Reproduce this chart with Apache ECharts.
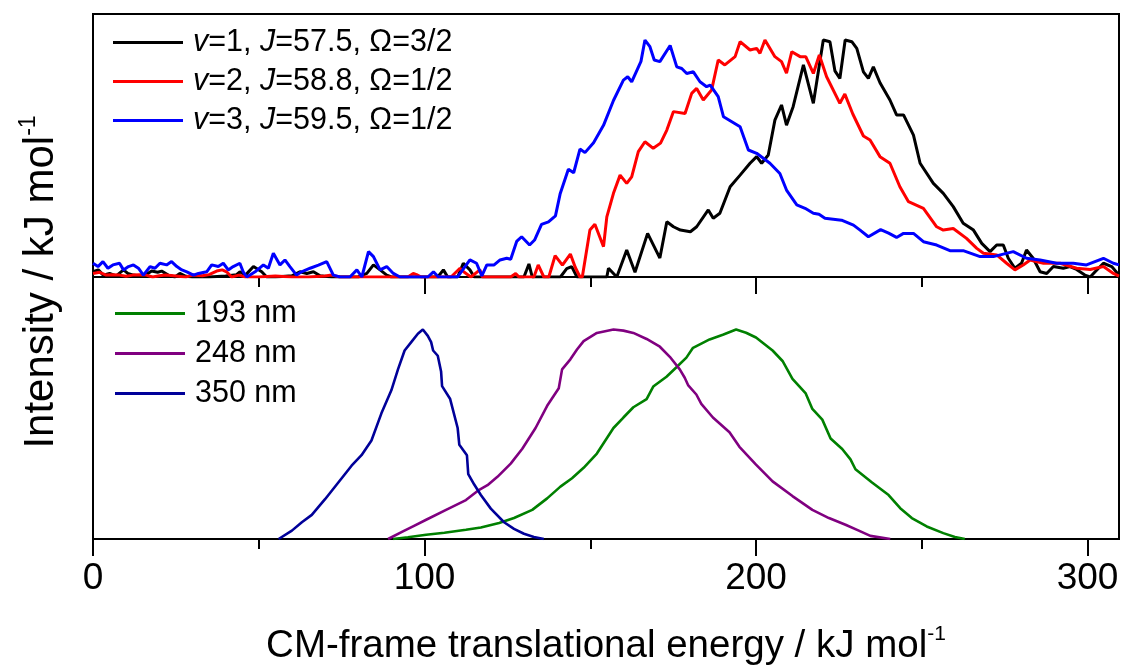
<!DOCTYPE html>
<html>
<head>
<meta charset="utf-8">
<title>CM-frame translational energy distributions</title>
<script src="https://cdn.jsdelivr.net/npm/echarts@6/dist/echarts.min.js"></script>
<style>
  html, body { margin: 0; padding: 0; background: #fff; }
  #chart { width: 1122px; height: 669px; }
</style>
</head>
<body>
<div id="chart"></div>
<script>
// Energy axis ticks (kJ/mol)
const majorTicks = [0, 100, 200, 300];
const minorTicks = [50, 150, 250];
const tickLabels = ['0', '100', '200', '300'];

// Upper panel: state-selected distributions, [energy, normalised intensity]
const topNames = ['v=1, J=57.5, Ω=3/2', 'v=2, J=58.8, Ω=1/2', 'v=3, J=59.5, Ω=1/2'];
const topColors = ['#000000', '#ff0000', '#0000ff'];

const v1Data = [
  [0,0.022],[1.6,0.03],[3.1,0.008],[5,0.015],[7,0.005],[9.2,0.03],[10.5,0.015],[12.2,0.008],[14,0.004],[16,0.01],
  [17.7,0.025],[19.5,0.02],[20.7,0.025],[22.7,0.008],[24.7,0],[26.2,0.015],[28,0.003],[30,0],[35,0],[40,0.004],
  [43.3,0.01],[44.3,0.022],[46,0.008],[48.4,0.044],[50.9,0.022],[52.4,0],[55,0],[60,0.005],[62.4,0.022],[64.5,0.015],
  [66.5,0.022],[68.5,0.005],[72,0],[80,0],[82.6,0.015],[84.6,0.051],[86.6,0.03],[88.6,0.008],[90,0],[104,0],
  [105.7,0.03],[107,0],[110,0],[111.7,0.058],[113.7,0.03],[115,0],[130,0],[131.5,0.055],[132.5,0],[141,0],
  [142.9,0.035],[144.4,0.044],[146,0],[155,0],[155.5,0.037],[158,0],[161,0.114],[163.5,0.02],[167.3,0.184],[171,0.08],
  [173.1,0.233],[175.1,0.212],[177.2,0.198],[180.2,0.191],[182.1,0.212],[185.6,0.283],[187.1,0.248],[189.1,0.269],[192.2,0.381],[195.2,0.43],
  [198.2,0.48],[200.2,0.508],[201.7,0.48],[203.7,0.515],[205.7,0.662],[207.7,0.726],[209.2,0.641],[211.2,0.719],[214.3,0.895],[217.3,0.733],
  [220.3,1.0],[222.3,0.993],[223.8,0.87],[225.3,0.838],[226.9,1.0],[228.9,0.993],[230.4,0.965],[232.4,0.866],[233.9,0.838],[235.4,0.887],
  [237.4,0.82],[240.4,0.747],[242.4,0.684],[244.5,0.684],[247.5,0.599],[249.5,0.48],[253.5,0.395],[256.5,0.353],[259.5,0.297],[262.5,0.227],
  [265.6,0.198],[268.1,0.142],[270.6,0.107],[272.6,0.135],[274.6,0.135],[276.1,0.079],[278.1,0.037],[280.1,0.058],[281.6,0.114],[283.6,0.079],
  [285.7,0.022],[287.7,0.015],[289.7,0.044],[292.7,0.037],[294.7,0.044],[296.7,0.032],[299.2,0.008],[300.8,0],[302.3,0.022],[304.8,0.058],
  [307.3,0.044],[309.5,0.008]
];

const v2Data = [
  [0,0.015],[2,0.02],[4,0.008],[6,0.01],[8,0.008],[10,0.003],[12,0.008],[14,0.01],[16,0.008],[18,0],
  [20,0.005],[22,0.008],[25,0.004],[28,0],[30,0.008],[33,0.005],[35,0.01],[37.3,0.025],[39,0.03],[40.3,0.022],
  [41.8,0],[44,0.008],[46,0],[50,0],[55,0.004],[60,0],[65,0],[70,0.004],[72,0.008],[74.5,0],
  [90,0],[95,0],[96.6,0.015],[97.6,0.01],[99,0],[108,0],[110.7,0.037],[112,0.02],[114,0],[116.7,0.03],
  [117.5,0],[126,0],[127.5,0.015],[128.5,0],[133,0],[134.3,0.051],[136,0],[137.5,0],[139.4,0.09],[141.6,0.05],
  [144,0.097],[145.5,0.04],[146.9,0],[147.6,0],[149.9,0.198],[151.4,0.223],[154,0.128],[155,0.254],[157,0.353],[159,0.43],
  [161,0.395],[162.5,0.423],[164.5,0.529],[166.5,0.571],[169,0.543],[171.2,0.565],[173.1,0.62],[175.1,0.698],[178.6,0.69],[180.6,0.775],
  [182.1,0.796],[184.1,0.747],[186.6,0.789],[188.6,0.916],[190.6,0.895],[193.7,0.93],[195.2,0.993],[198.2,0.958],[200.2,0.965],[201.2,0.944],
  [202.7,1.0],[205.7,0.93],[207.7,0.909],[209.2,0.86],[210.8,0.951],[213.3,0.93],[215,0.93],[217.3,0.859],[219.1,0.937],[221.3,0.845],
  [225.3,0.733],[226.8,0.772],[229.2,0.688],[232.4,0.595],[234.4,0.578],[237.4,0.508],[240.4,0.48],[243.4,0.381],[246,0.318],[250.5,0.29],
  [254.5,0.212],[256.5,0.198],[259.5,0.205],[263.5,0.163],[266.6,0.121],[268.6,0.1],[272.6,0.093],[275.6,0.058],[278.1,0.03],[280.6,0.051],
  [282.7,0.072],[286.7,0.058],[291.7,0.058],[296.7,0.037],[300.8,0.032],[304.8,0.044],[307.8,0.015],[309.5,0.004]
];

const v3Data = [
  [0,0.058],[1.5,0.044],[3,0.065],[4.5,0.037],[6,0.051],[8,0.058],[9.2,0.03],[10.7,0.044],[12.2,0.051],[13.7,0.037],
  [15.2,0.008],[17.2,0.044],[18.7,0.037],[20.2,0.058],[22.2,0.051],[23.7,0.065],[25.3,0.044],[26.8,0.03],[28.3,0.022],[30.3,0.008],
  [31.8,0.015],[34.3,0.022],[35.8,0.051],[37.8,0.044],[39.3,0.058],[40.8,0.03],[42.3,0.044],[44.3,0.058],[45.3,0.022],[46.4,0],
  [48.9,0.022],[51.4,0.051],[52.9,0.037],[54.4,0.1],[56.4,0.051],[57.9,0.072],[59.4,0.044],[61.4,0.008],[62.9,0.022],[65.5,0.037],
  [68,0.05],[70.5,0.065],[72.5,0.008],[74.5,0],[77.5,0],[79.6,0.03],[81.1,0],[83.1,0.107],[84.6,0.086],[86.6,0.03],
  [88.6,0.044],[90.6,0.015],[92.6,0],[101,0],[102.7,0.022],[104.2,0],[110,0],[112,0.04],[113.7,0.072],[115.7,0.058],
  [117.3,0.005],[118.8,0.051],[121,0.051],[122.8,0.072],[124.8,0.079],[126,0.075],[127.8,0.15],[129.3,0.17],[131.7,0.135],[133.2,0.156],
  [135.3,0.222],[137.4,0.233],[139.5,0.258],[140.9,0.35],[143.4,0.455],[145,0.44],[146.9,0.54],[148.4,0.525],[151,0.567],[154,0.64],
  [157,0.745],[160,0.831],[161.3,0.845],[162.5,0.824],[165.3,0.91],[166.5,1.0],[168,0.972],[169.3,0.916],[171,0.909],[174.1,0.977],
  [176.1,0.887],[177.6,0.88],[179.1,0.859],[181.1,0.866],[183.1,0.824],[185.1,0.803],[186.2,0.81],[188.6,0.761],[190.2,0.676],[192.7,0.655],
  [195.2,0.634],[197.7,0.536],[200.2,0.522],[204.2,0.48],[207.2,0.437],[209.2,0.367],[212.3,0.304],[214.8,0.29],[217.3,0.269],[219,0.265],
  [220.8,0.248],[225.8,0.24],[229.4,0.219],[231.4,0.198],[233.9,0.17],[237.6,0.2],[240,0.185],[242.4,0.167],[244.5,0.184],[247.5,0.184],
  [250.5,0.149],[254.5,0.135],[258.5,0.111],[262.5,0.111],[267.6,0.086],[271.6,0.086],[277.6,0.107],[281.6,0.079],[285.7,0.072],[290.7,0.058],
  [295.7,0.058],[299.7,0.051],[304.8,0.079],[307.8,0.058],[309.5,0.051]
];

// Lower panel: photolysis-wavelength distributions, [energy, normalised intensity]
const bottomNames = ['193 nm', '248 nm', '350 nm'];
const bottomColors = ['#008000', '#800080', '#000099'];

const nm193Data = [
  [90.5,0],[95,0.008],[100.5,0.02],[106,0.03],[112.5,0.044],[117,0.055],[122.5,0.076],[127,0.1],[132.5,0.139],[137,0.194],
  [141,0.25],[144.5,0.29],[148,0.34],[152,0.408],[157,0.53],[160,0.58],[163,0.629],[167,0.668],[169,0.728],[173,0.775],
  [176,0.82],[179,0.866],[181,0.913],[186,0.953],[190,0.975],[194,1.0],[197,0.985],[200,0.962],[205,0.9],[208,0.85],
  [211,0.765],[215,0.695],[217,0.621],[220,0.57],[222.5,0.48],[226,0.43],[228.5,0.38],[230,0.333],[235,0.27],[240,0.21],
  [243.5,0.147],[247,0.1],[251.5,0.06],[256.5,0.028],[260,0.01],[263,0]
];

const nm248Data = [
  [89,0],[93.5,0.036],[97,0.064],[100.5,0.092],[106.5,0.139],[112.5,0.186],[116.5,0.235],[119,0.257],[122,0.297],[126,0.36],
  [129.5,0.431],[133.5,0.53],[137,0.636],[140.5,0.72],[141.5,0.81],[144,0.858],[146,0.905],[148,0.945],[152,0.984],[157,1.0],
  [160,0.995],[163,0.984],[167,0.955],[171,0.918],[174,0.87],[177,0.81],[178.5,0.77],[179.5,0.735],[182,0.69],[183.5,0.645],
  [187,0.58],[192,0.51],[195,0.44],[200,0.355],[205,0.275],[211,0.205],[217,0.139],[222,0.1],[227,0.068],[231,0.04],
  [234.5,0.015],[240.5,0]
];

const nm350Data = [
  [56,0],[60,0.04],[63,0.08],[66,0.115],[70,0.19],[74,0.27],[78,0.35],[81,0.4],[84,0.47],[87,0.6],
  [90,0.71],[92,0.81],[94,0.9],[96,0.94],[98,0.98],[99.5,1.0],[101,0.97],[102,0.94],[102.6,0.9],[104,0.875],
  [105,0.8],[105.3,0.73],[107.7,0.67],[110,0.53],[110.5,0.45],[112.8,0.4],[113.2,0.31],[115,0.26],[117,0.21],[120,0.145],
  [124,0.08],[127,0.048],[130,0.025],[133,0.01],[136,0]
];

const FONT = '"Liberation Sans", Arial, Helvetica, sans-serif';

function energyAxes(gridIndex, withLabels) {
  const common = {
    type: 'value', gridIndex: gridIndex, min: 0, max: 309.5,
    position: 'bottom', offset: 0,
    splitLine: { show: false }
  };
  return [
    Object.assign({}, common, {
      axisLine: { show: true, lineStyle: { color: '#000', width: 2 } },
      axisTick: { show: true, customValues: majorTicks, length: 17, lineStyle: { color: '#000', width: 2 } },
      axisLabel: withLabels ? {
        show: true, customValues: majorTicks, margin: 21,
        formatter: v => tickLabels[majorTicks.indexOf(v)],
        fontSize: 37, fontFamily: FONT, color: '#000'
      } : { show: false },
      name: withLabels ? 'CM-frame translational energy / kJ mol{sup|-1}' : '',
      nameLocation: 'middle',
      nameGap: 85,
      nameTextStyle: {
        fontSize: 38.5, fontFamily: FONT, color: '#000', lineHeight: 44,
        rich: { sup: { fontSize: 21, fontFamily: FONT, color: '#000', verticalAlign: 'top', lineHeight: 21 } }
      }
    }),
    Object.assign({}, common, {
      axisLine: { show: false },
      axisTick: { show: true, customValues: minorTicks, length: 10, lineStyle: { color: '#000', width: 2 } },
      axisLabel: { show: false }
    })
  ];
}

const legendText = {
  fontSize: 30.5, fontFamily: FONT, color: '#000', lineHeight: 30, padding: [0, 0, 0, 5],
  rich: { i: { fontSize: 30.5, fontFamily: FONT, fontStyle: 'italic', color: '#000', lineHeight: 30 } }
};

// Legend swatch: a short horizontal stroke
const swatch = 'path://M0,0 L70,0 L70,3 L0,3 Z';

function lineSeries(name, data, color, xi, yi, width) {
  return {
    type: 'line', name: name, data: data,
    xAxisIndex: xi, yAxisIndex: yi,
    symbol: 'none', showSymbol: false, smooth: false, animation: false,
    lineStyle: { color: color, width: width },
    itemStyle: { color: color }
  };
}

const option = {
  backgroundColor: '#fff',
  animation: false,
  grid: [
    { left: 93, top: 14, width: 1026, height: 263, show: true, borderColor: '#000', borderWidth: 2, backgroundColor: 'transparent' },
    { left: 93, top: 277, width: 1026, height: 264, show: true, borderColor: '#000', borderWidth: 2, backgroundColor: 'transparent' }
  ],
  xAxis: energyAxes(0, false).concat(energyAxes(1, true)),
  yAxis: [
    { type: 'value', gridIndex: 0, min: 0, max: 1.11, axisLine: { show: false }, axisTick: { show: false }, axisLabel: { show: false }, splitLine: { show: false } },
    { type: 'value', gridIndex: 1, min: 0, max: 1.251, axisLine: { show: false }, axisTick: { show: false }, axisLabel: { show: false }, splitLine: { show: false } }
  ],
  legend: [
    {
      data: topNames, orient: 'vertical', left: 113, top: 27, padding: 0,
      itemWidth: 70, itemHeight: 30, itemGap: 8, selectedMode: false,
      icon: swatch,
      formatter: n => n.replace(/^v=/, '{i|v}=').replace(' J=', ' {i|J}='),
      textStyle: legendText
    },
    {
      data: bottomNames, orient: 'vertical', left: 115, top: 298, padding: 0,
      itemWidth: 70, itemHeight: 30, itemGap: 9, selectedMode: false,
      icon: swatch,
      textStyle: legendText
    }
  ],
  graphic: [{
    type: 'text', x: 41, y: 282, rotation: Math.PI / 2,
    style: {
      text: 'Intensity / kJ mol{sup|-1}',
      align: 'center', verticalAlign: 'middle',
      fontSize: 42, fontFamily: FONT, fill: '#000', lineHeight: 48,
      rich: { sup: { fontSize: 23, fontFamily: FONT, fill: '#000', verticalAlign: 'top', lineHeight: 23 } }
    }
  }],
  series: [
    lineSeries(topNames[0], v1Data, topColors[0], 0, 0, 3),
    lineSeries(topNames[1], v2Data, topColors[1], 0, 0, 3),
    lineSeries(topNames[2], v3Data, topColors[2], 0, 0, 3),
    lineSeries(bottomNames[0], nm193Data, bottomColors[0], 2, 1, 2.6),
    lineSeries(bottomNames[1], nm248Data, bottomColors[1], 2, 1, 2.6),
    lineSeries(bottomNames[2], nm350Data, bottomColors[2], 2, 1, 2.6)
  ]
};

const chart = echarts.init(document.getElementById('chart'), null, { renderer: 'canvas' });
chart.setOption(option);
</script>
</body>
</html>
